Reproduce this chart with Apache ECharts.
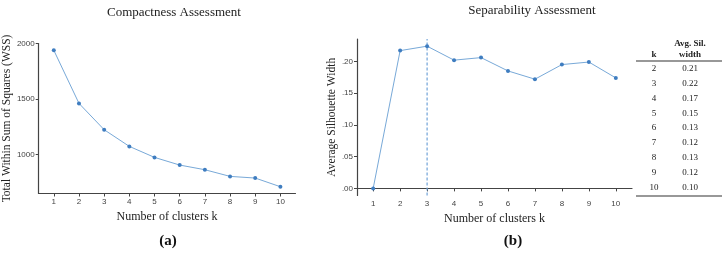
<!DOCTYPE html>
<html>
<head>
<meta charset="utf-8">
<script src="https://cdn.jsdelivr.net/npm/echarts@6/dist/echarts.min.js"></script>
<style>
html,body{margin:0;padding:0;background:#fff;}
#c{width:725px;height:258px;}
</style>
</head>
<body>
<div id="c"></div>
<script>
const kValues = [1, 2, 3, 4, 5, 6, 7, 8, 9, 10];
const wss = [1940, 1462, 1225, 1075, 976, 907, 865, 805, 790, 712];
const sil = [0.000, 0.217, 0.224, 0.202, 0.206, 0.185, 0.172, 0.195, 0.199, 0.174];
const wssTicks = [1000, 1500, 2000];
const silTicks = [0, 0.05, 0.10, 0.15, 0.20];
const optimalK = 3;
const tableK = ['2', '3', '4', '5', '6', '7', '8', '9', '10'];
const tableSil = ['0.21', '0.22', '0.17', '0.15', '0.13', '0.12', '0.13', '0.12', '0.10'];

const serif = '"Liberation Serif", "DejaVu Serif", serif';
const sans = '"Liberation Sans", Arial, sans-serif';
const axisColor = '#444';
const lineColor = '#78a9d8';
const pointColor = '#3f7dc0';
const silMin = -0.0112, silMax = 0.2353;

function xAxisCfg(gridIndex) {
  return {
    type: 'value', gridIndex: gridIndex, min: 0.4, max: 10.6,
    name: 'Number of clusters k', nameLocation: 'middle', nameGap: 14,
    nameTextStyle: {fontFamily: serif, fontSize: 12, color: '#222'},
    axisLine: {show: true, lineStyle: {color: axisColor, width: 1.2}},
    axisTick: {show: true, length: 3, lineStyle: {color: axisColor}, customValues: kValues},
    axisLabel: {fontFamily: sans, fontSize: 8, color: axisColor, margin: 4, customValues: kValues},
    splitLine: {show: false}
  };
}

const pairs1 = kValues.map((k, i) => [k, wss[i]]);
const pairs2 = kValues.map((k, i) => [k, sil[i]]);
const vline = [[optimalK, silMin], [optimalK, silMax]];

const graphics = [];
const colK = 654, colS = 690;
const hdr = {font: 'bold 9px ' + serif, fill: '#222', textAlign: 'center'};
graphics.push({type: 'text', x: colS, y: 39, style: Object.assign({text: 'Avg. Sil.'}, hdr)});
graphics.push({type: 'text', x: colS, y: 50, style: Object.assign({text: 'width'}, hdr)});
graphics.push({type: 'text', x: colK, y: 50, style: Object.assign({text: 'k'}, hdr)});
graphics.push({type: 'line', shape: {x1: 636, y1: 61, x2: 722, y2: 61}, style: {stroke: '#333', lineWidth: 1.2}});
graphics.push({type: 'line', shape: {x1: 636, y1: 196, x2: 722, y2: 196}, style: {stroke: '#333', lineWidth: 1.2}});
tableK.forEach((k, i) => {
  const y = 64 + i * 14.9;
  graphics.push({type: 'text', x: colK, y: y, style: {text: k, font: '9px ' + serif, fill: '#222', textAlign: 'center'}});
  graphics.push({type: 'text', x: colS, y: y, style: {text: tableSil[i], font: '9px ' + serif, fill: '#222', textAlign: 'center'}});
});
graphics.push({type: 'text', x: 168, y: 234, style: {text: '(a)', font: 'bold 15px ' + serif, fill: '#111', textAlign: 'center'}});
graphics.push({type: 'text', x: 513, y: 234, style: {text: '(b)', font: 'bold 15px ' + serif, fill: '#111', textAlign: 'center'}});

const chart = echarts.init(document.getElementById('c'), null, {renderer: 'canvas'});
chart.setOption({
  animation: false,
  backgroundColor: '#fff',
  title: [
    {text: 'Compactness Assessment', left: 169, top: 1, textAlign: 'center',
     textStyle: {fontFamily: serif, fontSize: 13, fontWeight: 'normal', color: '#222'}},
    {text: 'Separability Assessment', left: 527, top: -1, textAlign: 'center',
     textStyle: {fontFamily: serif, fontSize: 13, fontWeight: 'normal', color: '#222'}}
  ],
  grid: [
    {left: 34.5, top: 43.5, width: 261, height: 150, containLabel: false},
    {left: 357, top: 39, width: 275, height: 156.5, containLabel: false}
  ],
  xAxis: [xAxisCfg(0), xAxisCfg(1)],
  yAxis: [
    {type: 'value', gridIndex: 0, min: 651, max: 2001,
     name: 'Total Within Sum of Squares (WSS)', nameLocation: 'middle', nameGap: 24,
     nameTextStyle: {fontFamily: serif, fontSize: 11.5, color: '#222'},
     axisLine: {show: true, lineStyle: {color: axisColor, width: 1.2}},
     axisTick: {show: true, length: 3, lineStyle: {color: axisColor}, customValues: wssTicks},
     axisLabel: {fontFamily: sans, fontSize: 8, color: axisColor, margin: 4, customValues: wssTicks,
       formatter: v => String(Math.round(v))},
     splitLine: {show: false}},
    {type: 'value', gridIndex: 1, min: silMin, max: silMax,
     name: 'Average Silhouette Width', nameLocation: 'middle', nameGap: 19,
     nameTextStyle: {fontFamily: serif, fontSize: 11.5, color: '#222'},
     axisLine: {show: true, lineStyle: {color: axisColor, width: 1.2}},
     axisTick: {show: true, length: 3, lineStyle: {color: axisColor}, customValues: silTicks},
     axisLabel: {fontFamily: sans, fontSize: 8, color: axisColor, margin: 4, customValues: silTicks,
       formatter: v => v.toFixed(2).replace(/^0/, '')},
     splitLine: {show: false}}
  ],
  series: [
    {type: 'line', xAxisIndex: 0, yAxisIndex: 0, data: pairs1, symbol: 'circle', symbolSize: 4,
     lineStyle: {color: lineColor, width: 1}, itemStyle: {color: pointColor}},
    {type: 'line', xAxisIndex: 1, yAxisIndex: 1, data: vline, symbol: 'none', silent: true,
     lineStyle: {color: '#6fa2d8', type: [3, 2], width: 1.2}, z: 1},
    {type: 'line', xAxisIndex: 1, yAxisIndex: 1, data: pairs2, symbol: 'circle', symbolSize: 4,
     lineStyle: {color: lineColor, width: 1}, itemStyle: {color: pointColor}, z: 3}
  ],
  graphic: graphics
});
</script>
</body>
</html>
